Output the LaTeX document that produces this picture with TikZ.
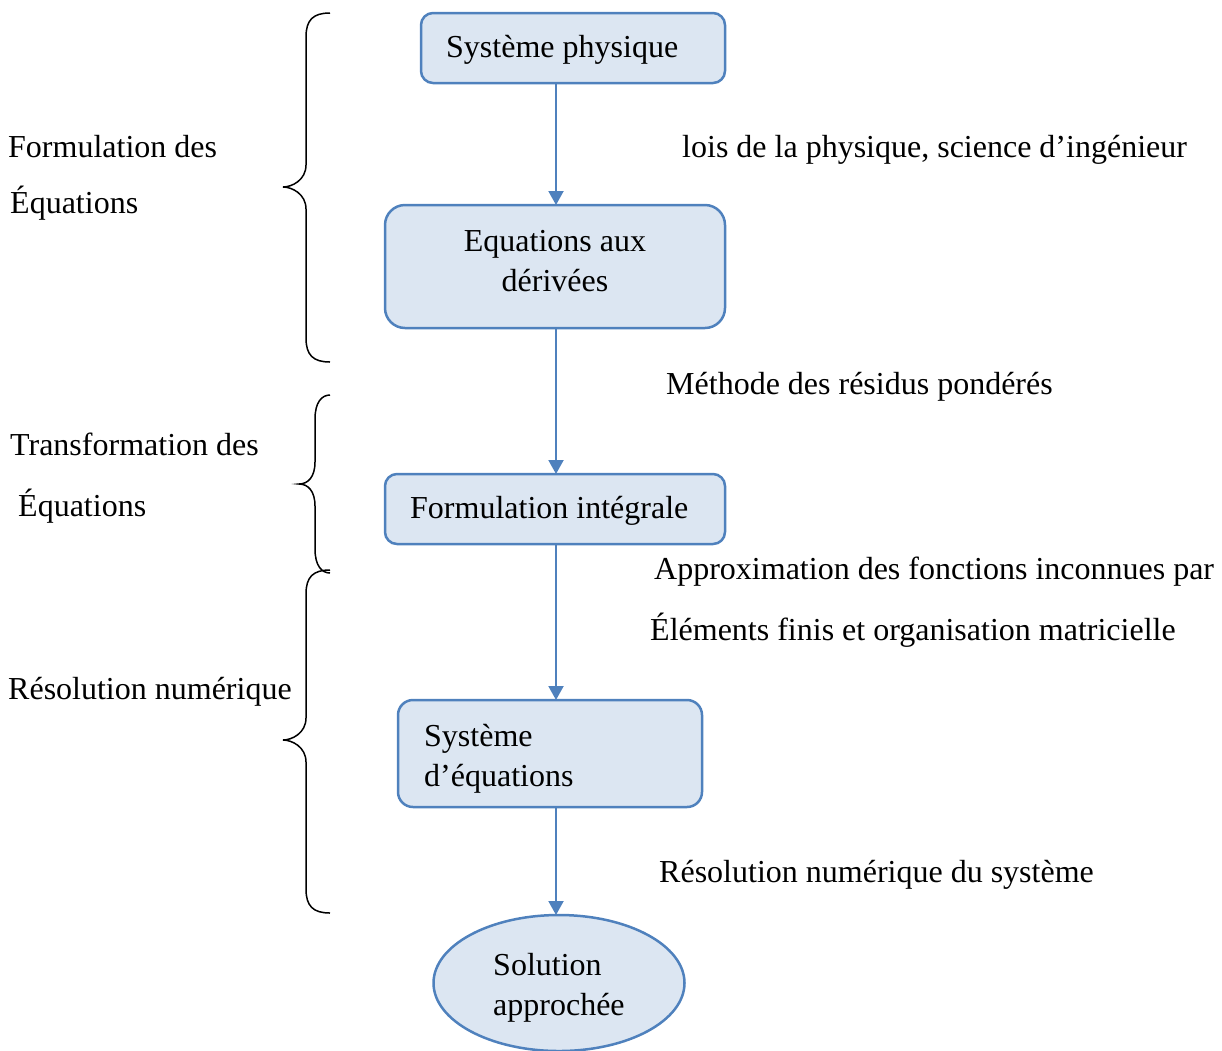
\documentclass[tikz,border=0pt]{standalone}
\usepackage{fontspec}
\setmainfont{Liberation Serif}
\usetikzlibrary{arrows.meta,shapes.geometric}

\definecolor{boxfill}{HTML}{DCE6F2}
\definecolor{boxline}{HTML}{4F81BD}

% Curly brace opening to the right: end x, spine x, tip x, top y, tip y, bottom y
\newcommand\sidebrace[6]{%
  \draw[bracestyle] (#1,#4) .. controls ({#2+7},#4) and (#2,{#4+7}) .. (#2,{#4+24})
    -- (#2,{#5-22}) .. controls (#2,{#5-7}) and ({#3+9},#5) .. (#3,#5)
    .. controls ({#3+9},#5) and (#2,{#5+7}) .. (#2,{#5+22})
    -- (#2,{#6-24}) .. controls (#2,{#6-7}) and ({#2+7},#6) .. (#1,#6);}

\tikzset{
  every node/.style={font=\fontsize{32}{39.5}\selectfont},
  stepbox/.style={draw=boxline, fill=boxfill, line width=2.5pt, rounded corners=#1,
    inner sep=0pt, outer sep=0pt},
  endshape/.style={ellipse, draw=boxline, fill=boxfill, line width=2.5pt,
    inner sep=0pt, outer sep=0pt},
  flow/.style={draw=boxline, line width=2pt, -{Triangle[width=15pt,length=14pt]}},
  note/.style={anchor=base west, inner sep=0pt, align=flush left},
  boxtext/.style={anchor=base, inner sep=0pt, align=flush center},
  bracestyle/.style={line width=1.5pt, black},
}

\begin{document}
\begin{tikzpicture}[x=1pt, y=-1pt]
\useasboundingbox (0,0) rectangle (1222,1050);

% common vertical axis of the arrows
\coordinate (ax) at (556,0);

% process boxes
\node[stepbox=12pt, minimum width=304pt, minimum height=70pt] (b1) at (573,48) {};
\node[stepbox=20pt, minimum width=340pt, minimum height=123pt] (b2) at (555,266.5) {};
\node[stepbox=12pt, minimum width=340pt, minimum height=70pt] (b3) at (555,509) {};
\node[stepbox=15pt, minimum width=304pt, minimum height=107pt] (b4) at (550,753.5) {};
\node[endshape, minimum width=251pt, minimum height=136pt] (b5) at (559,983) {};

% their texts (a multi-line node sits on the baseline of its last line)
\node[note] (t1) at (446,57) {Système physique};
\node[boxtext] (t2) at (555,291) {Equations aux\\dérivées};
\node[note] (t3) at (410,518) {Formulation intégrale};
\node[note] (t4) at (424,786) {Système\\d’équations};
\node[note] (t5) at (493,1015) {Solution\\approchée};

% arrows between the steps
\draw[flow] (b1.south -| ax) -- (b2.north -| ax);
\draw[flow] (b2.south -| ax) -- (b3.north -| ax);
\draw[flow] (b3.south -| ax) -- (b4.north -| ax);
\draw[flow] (b4.south -| ax) -- (b5.north -| ax);

% notes beside the arrows
\node[note] (n1) at (682,157) {lois de la physique, science d’ingénieur};
\node[note] (n2) at (666,394) {Méthode des résidus pondérés};
\node[note] (n3) at (654,579) {Approximation des fonctions inconnues par};
\node[note] (n4) at (650,640) {Éléments finis et organisation matricielle};
\node[note] (n5) at (659,882) {Résolution numérique du système};

% phase names on the left
\node[note] (p1a) at (8,157) {Formulation des};
\node[note] (p1b) at (10,213) {Équations};
\node[note] (p2a) at (10,455) {Transformation des};
\node[note] (p2b) at (18,516) {Équations};
\node[note] (p3) at (8,699) {Résolution numérique};

% braces grouping the steps
\sidebrace{330}{306}{283}{13}{187}{362}
\sidebrace{330}{315}{299}{395}{484}{573}
\sidebrace{330}{306}{283}{570}{740}{913}
\end{tikzpicture}
\end{document}
